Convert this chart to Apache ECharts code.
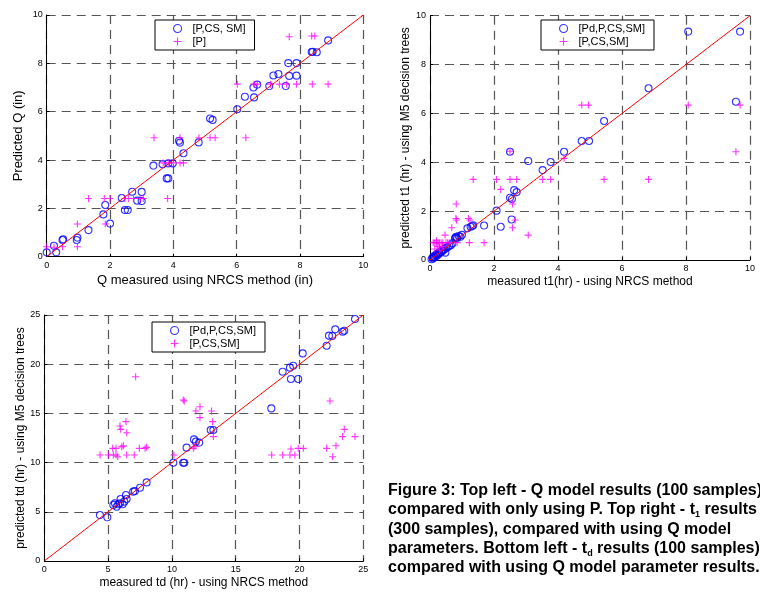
<!DOCTYPE html>
<html><head><meta charset="utf-8">
<script src="https://cdn.jsdelivr.net/npm/echarts@6/dist/echarts.min.js"></script>
<style>html,body{margin:0;padding:0;background:#fff}#c{width:760px;height:592px}</style>
</head><body><div id="c"></div>
<script>
// ---- Plot 1: Q model (in) ----
var q_circ_x = [0.0,0.23,0.3,0.5,0.52,0.95,0.97,1.32,1.79,1.85,2.0,2.37,2.47,2.56,2.7,2.86,3.0,3.0,3.37,3.66,3.79,3.84,3.84,3.98,4.18,4.21,4.32,4.8,5.16,5.24,6.02,6.26,6.53,6.55,6.65,7.03,7.16,7.32,7.55,7.63,7.66,7.89,7.89,8.37,8.4,8.53,8.89];
var q_circ_y = [0.18,0.45,0.18,0.69,0.72,0.69,0.79,1.1,1.75,2.14,1.37,2.43,1.93,1.93,2.69,2.32,2.68,2.3,3.77,3.83,3.24,3.24,3.86,3.86,4.8,4.72,4.28,4.73,5.72,5.66,6.1,6.62,7.0,6.59,7.12,7.06,7.5,7.56,7.06,8.01,7.48,8.01,7.49,8.47,8.48,8.46,8.95];
var q_plus_x = [0.0,0.23,0.5,0.97,0.97,1.32,1.82,2.0,1.85,2.47,2.58,2.74,2.95,3.05,3.39,3.68,3.82,3.84,4.0,4.21,4.32,4.21,4.81,5.16,5.32,6.02,6.29,6.55,6.65,7.07,7.35,7.58,7.89,7.66,8.37,8.47,8.39,8.89];
var q_plus_y = [0.41,0.39,0.41,1.35,0.41,2.41,2.41,2.41,1.35,2.41,2.41,2.41,2.41,2.41,4.92,3.88,2.41,3.88,3.88,3.88,3.88,4.92,4.92,4.92,4.92,7.14,4.92,7.14,7.14,7.14,7.14,7.14,7.14,9.1,9.13,9.13,7.14,7.14];
// ---- Plot 2: t1 (hr) ----
var t1_circ_x = [0.05,0.08,0.1,0.12,0.15,0.18,0.2,0.22,0.25,0.28,0.3,0.35,0.38,0.4,0.45,0.48,0.5,0.55,0.6,0.65,0.7,0.78,0.8,0.82,0.85,0.9,0.95,1.0,1.17,1.27,1.32,1.35,1.69,2.08,2.21,2.5,2.55,2.56,2.63,2.71,2.5,3.07,3.52,3.77,4.19,4.74,4.97,5.44,6.83,8.07,9.69,9.56];
var t1_circ_y = [0.03,0.1,0.06,0.15,0.12,0.2,0.16,0.25,0.22,0.3,0.28,0.33,0.4,0.38,0.44,0.3,0.5,0.52,0.58,0.6,0.68,0.88,0.92,0.95,0.9,0.98,0.95,1.03,1.3,1.36,1.39,1.42,1.41,2.02,1.36,2.55,1.66,2.5,2.86,2.78,4.43,4.05,3.68,4.01,4.43,4.87,4.87,5.69,7.03,9.35,9.35,6.48];
var t1_plus_x = [0.1,0.15,0.2,0.25,0.3,0.35,0.4,0.5,0.55,0.6,0.15,0.25,0.3,0.2,0.47,0.68,0.81,0.83,0.82,0.85,1.2,1.25,1.23,1.35,1.69,2.08,2.21,2.5,2.5,2.58,2.58,2.66,2.71,3.07,3.52,3.77,4.19,4.74,4.95,5.44,6.83,8.07,9.69,9.56,0.4,0.3];
var t1_plus_y = [0.71,0.71,0.71,0.71,0.71,0.71,0.71,0.71,0.71,0.71,0.45,0.55,0.5,0.79,1.02,1.32,1.7,1.64,2.29,0.71,1.7,1.64,0.71,3.3,0.71,3.3,2.89,3.3,4.45,2.29,1.32,1.64,3.3,1.02,3.3,3.3,4.16,6.34,6.34,3.3,3.3,6.34,6.34,4.43,0.55,0.4];
// ---- Plot 3: td (hr) ----
var td_circ_x = [4.36,4.94,5.41,5.54,5.67,5.8,5.93,5.98,6.14,6.27,6.4,6.45,6.97,7.1,7.5,8.02,10.11,10.89,10.97,11.15,11.73,11.88,12.14,13.04,13.25,17.79,18.68,19.25,19.51,19.33,19.9,20.25,22.13,22.31,22.57,22.8,23.38,23.51,24.35];
var td_circ_y = [4.67,4.44,5.69,5.86,5.52,5.76,5.86,6.3,5.76,6.03,6.71,6.3,7.05,7.11,7.45,7.99,9.99,9.99,9.99,11.52,12.36,12.13,12.03,13.31,13.31,15.51,19.24,19.65,19.85,18.5,18.5,21.1,21.88,22.9,22.87,23.54,23.3,23.4,24.59];
var td_plus_x = [4.37,5.02,5.41,5.62,5.75,5.36,5.62,6.07,6.2,6.46,7.05,7.45,8.02,7.9,7.16,6.4,5.93,5.99,6.46,10.16,10.89,10.97,11.68,11.8,11.88,12.2,12.2,13.11,13.19,13.25,17.82,18.68,19.25,19.64,19.33,19.9,20.3,22.13,22.39,22.6,22.86,23.38,23.51,24.35];
var td_plus_y = [10.77,10.77,10.77,10.77,10.6,11.45,11.45,11.6,11.7,10.77,10.77,11.45,11.55,11.45,18.73,14.16,13.72,13.38,13.04,10.77,16.36,16.26,11.45,11.62,15.24,15.68,14.57,15.24,14.16,12.64,10.77,10.77,10.77,10.77,11.38,11.45,11.45,11.45,16.26,10.6,11.72,12.64,13.38,12.64];
// reference 1:1 lines (axis ranges)
var diag1 = [0, 10], diag2 = [0, 10], diag3 = [0, 25];
var names1 = ['[P,CS, SM]', '[P]'];
var names2 = ['[Pd,P,CS,SM]', '[P,CS,SM]'];
var names3 = ['[Pd,P,CS,SM]', '[P,CS,SM]'];
var captionLines = [
  'Figure 3: Top left - Q model results (100 samples)',
  'compared with only using P. Top right - t{s|1} results',
  '(300 samples), compared with using Q model',
  'parameters. Bottom left - t{s|d} results (100 samples)',
  'compared with using Q model parameter results.'
];

function zip(a, b) { return a.map(function (v, i) { return [v, b[i]]; }); }
var FF = '"Liberation Sans", Arial, sans-serif';
var PLUS = 'path://M5,0L5,10M0,5L10,5';
var circStyle = { color: 'rgba(0,0,0,0)', borderColor: '#0000ff', borderWidth: 1.1 };
var plusStyle = { color: 'rgba(0,0,0,0)', borderColor: '#ff00ff', borderWidth: 1.1 };

function axis(gi, max, interval, name, nameGap, nameSize) {
  return {
    gridIndex: gi, type: 'value', min: 0, max: max, interval: interval,
    name: name, nameLocation: 'middle', nameGap: nameGap,
    nameTextStyle: { color: '#000', fontSize: nameSize, fontFamily: FF },
    axisLine: { show: true, onZero: false, lineStyle: { color: '#000', width: 1 } },
    axisTick: { show: true, inside: true, length: 3, lineStyle: { color: '#000' } },
    axisLabel: { color: '#000', fontSize: 9, margin: 4, fontFamily: FF },
    splitLine: { show: true, lineStyle: { color: '#555', width: 1.2, type: [9, 6] } }
  };
}
function legend(left, top, names) {
  return {
    left: left, top: top, orient: 'vertical', selectedMode: false,
    backgroundColor: '#fff', borderColor: '#000', borderWidth: 1,
    padding: [3, 9, 3, 18], itemGap: 2, itemWidth: 8, itemHeight: 8,
    textStyle: { fontSize: 11, color: '#000', fontFamily: FF, padding: [0, 0, 0, 6] },
    data: [
      { name: names[0], icon: 'circle', itemStyle: circStyle },
      { name: names[1], icon: PLUS, itemStyle: plusStyle }
    ]
  };
}
function sc(name, gi, data, isPlus) {
  return {
    name: name, type: 'scatter', xAxisIndex: gi, yAxisIndex: gi,
    symbol: isPlus ? PLUS : 'circle', symbolSize: 7,
    itemStyle: isPlus ? plusStyle : circStyle, data: data, silent: true, z: isPlus ? 3 : 2
  };
}
function diag(gi, d) {
  return {
    type: 'line', xAxisIndex: gi, yAxisIndex: gi, symbol: 'none', silent: true, z: 4,
    lineStyle: { color: '#ff0000', width: 1 }, data: [[d[0], d[0]], [d[1], d[1]]]
  };
}

var chart = echarts.init(document.getElementById('c'), null, { renderer: 'canvas' });
chart.setOption({
  backgroundColor: '#fff',
  animation: false,
  grid: [
    { left: 46.7, top: 15, width: 316.6, height: 241.7 },
    { left: 430, top: 15.7, width: 320, height: 244.3 },
    { left: 44.3, top: 315, width: 319, height: 246 }
  ],
  xAxis: [
    axis(0, 10, 2, 'Q measured using NRCS method (in)', 17, 13),
    axis(1, 10, 2, 'measured t1(hr) - using NRCS method', 16, 12),
    axis(2, 25, 5, 'measured td (hr) - using NRCS method', 16, 12)
  ],
  yAxis: [
    axis(0, 10, 2, 'Predicted Q (in)', 22, 13),
    axis(1, 10, 2, 'predicted t1 (hr) - using M5 decision trees', 12, 12),
    axis(2, 25, 5, 'predicted td (hr) - using M5 decision trees', 15, 12)
  ],
  legend: [legend(155, 20, names1), legend(541, 20, names2), legend(152, 322, names3)],
  series: [
    sc(names1[0], 0, zip(q_circ_x, q_circ_y), false),
    sc(names1[1], 0, zip(q_plus_x, q_plus_y), true),
    diag(0, diag1),
    sc(names2[0], 1, zip(t1_circ_x, t1_circ_y), false),
    sc(names2[1], 1, zip(t1_plus_x, t1_plus_y), true),
    diag(1, diag2),
    sc(names3[0], 2, zip(td_circ_x, td_circ_y), false),
    sc(names3[1], 2, zip(td_plus_x, td_plus_y), true),
    diag(2, diag3)
  ],
  graphic: captionLines.map(function (t, i) {
    return {
      type: 'text', left: 388, top: 481 + i * 19.3,
      style: {
        text: t, fill: '#000', font: 'bold 16px ' + FF,
        rich: { s: { fontSize: 9, fontWeight: 'bold', fontFamily: FF, fill: '#000', verticalAlign: 'bottom', lineHeight: 19 } },
        lineHeight: 19
      }
    };
  })
});
</script></body></html>
